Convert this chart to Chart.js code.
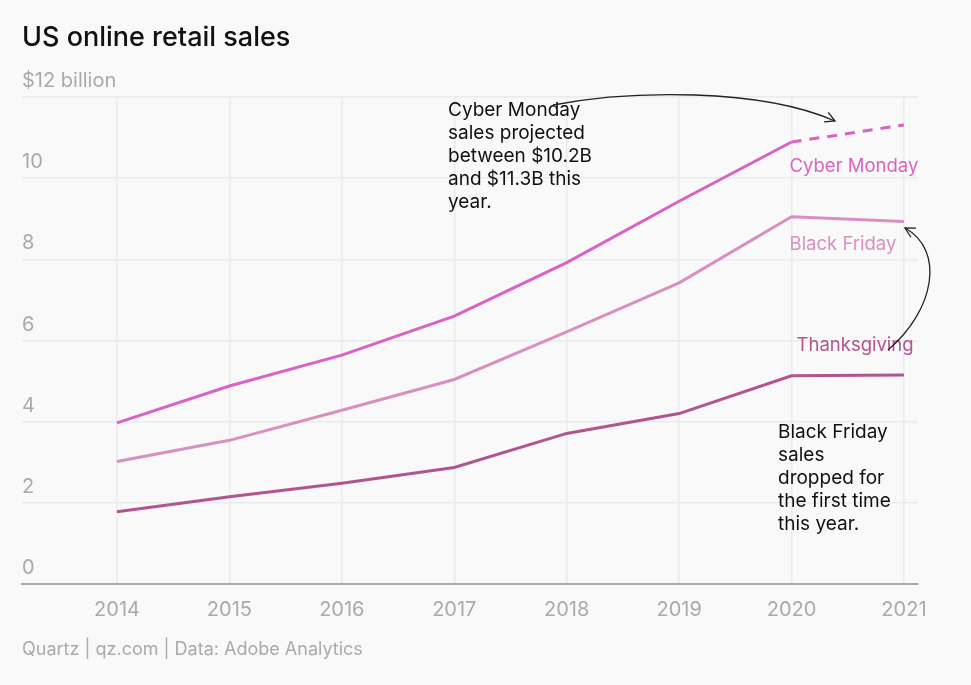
<!DOCTYPE html>
<html>
<head>
<meta charset="utf-8">
<script src="https://cdn.jsdelivr.net/npm/chart.js@4"></script>
<style>
  html, body { margin: 0; padding: 0; background: #f9f9f9; }
  #wrap { width: 971px; height: 685px; position: relative; }
</style>
</head>
<body>
<div id="wrap"><canvas id="chart"></canvas></div>
<script>
const years = [2014, 2015, 2016, 2017, 2018, 2019, 2020, 2021];
const cyberMonday = [3.97, 4.88, 5.64, 6.6, 7.92, 9.43, 10.89, 11.31];
const blackFriday = [3.02, 3.54, 4.28, 5.04, 6.21, 7.42, 9.05, 8.93];
const thanksgiving = [1.78, 2.15, 2.48, 2.87, 3.71, 4.2, 5.13, 5.15];
const yTicks = [0, 2, 4, 6, 8, 10, 12];

const FONT = 'Inter, "Noto Sans", sans-serif';
const CM_COLOR = '#d963c4';
const BF_COLOR = '#d990c0';
const TG_COLOR = '#b0558f';

function pts(values) {
  return values.map((v, i) => ({x: years[i], y: v}));
}

function drawArrow(ctx, p0, c1, c2, p1) {
  ctx.beginPath();
  ctx.moveTo(p0[0], p0[1]);
  ctx.bezierCurveTo(c1[0], c1[1], c2[0], c2[1], p1[0], p1[1]);
  ctx.stroke();
  // arrow head along the end tangent
  const a = Math.atan2(p1[1] - c2[1], p1[0] - c2[0]);
  const len = 11;
  ctx.beginPath();
  ctx.moveTo(p1[0] - len * Math.cos(a - 0.5), p1[1] - len * Math.sin(a - 0.5));
  ctx.lineTo(p1[0], p1[1]);
  ctx.lineTo(p1[0] - len * Math.cos(a + 0.5), p1[1] - len * Math.sin(a + 0.5));
  ctx.stroke();
}

const decorations = {
  id: 'decorations',
  afterDraw(chart) {
    const ctx = chart.ctx;
    const xs = chart.scales.x;
    const ys = chart.scales.y;
    const x2020 = xs.getPixelForValue(2020);
    ctx.save();
    ctx.textBaseline = 'middle';
    ctx.textAlign = 'left';

    // title and source
    ctx.fillStyle = '#111';
    ctx.font = '500 27px ' + FONT;
    ctx.fillText('US online retail sales', 22, 38);
    ctx.fillStyle = '#aaaaaa';
    ctx.font = '18px ' + FONT;
    ctx.fillText('Quartz | qz.com | Data: Adobe Analytics', 22, 650);

    // series labels
    ctx.font = '18.5px ' + FONT;
    ctx.fillStyle = CM_COLOR;
    ctx.fillText('Cyber Monday', x2020 - 2, ys.getPixelForValue(10.87) + 24);
    ctx.fillStyle = BF_COLOR;
    ctx.fillText('Black Friday', x2020 - 2, ys.getPixelForValue(9.05) + 28);
    ctx.fillStyle = TG_COLOR;
    ctx.fillText('Thanksgiving', x2020 + 5, ys.getPixelForValue(5.13) - 30);

    // notes
    ctx.fillStyle = '#111';
    ctx.font = '19px ' + FONT;
    const note1 = ['Cyber Monday', 'sales projected', 'between $10.2B', 'and $11.3B this', 'year.'];
    note1.forEach((t, i) => ctx.fillText(t, 448, 110 + i * 23));
    const note2 = ['Black Friday', 'sales', 'dropped for', 'the first time', 'this year.'];
    note2.forEach((t, i) => ctx.fillText(t, 778, 432 + i * 23));

    // arrows
    ctx.strokeStyle = '#222';
    ctx.lineWidth = 1.3;
    drawArrow(ctx, [553, 105], [630, 90], [760, 88], [835, 121]);
    drawArrow(ctx, [888, 350], [935, 310], [945, 250], [905, 228]);
    ctx.restore();
  }
};

new Chart(document.getElementById('chart'), {
  type: 'line',
  data: {
    datasets: [
      {
        label: 'Cyber Monday',
        data: pts(cyberMonday),
        borderColor: CM_COLOR,
        borderWidth: 3,
        pointRadius: 0,
        segment: {
          borderDash: ctx => ctx.p0DataIndex === years.length - 2 ? [10, 8] : undefined
        }
      },
      {
        label: 'Black Friday',
        data: pts(blackFriday),
        borderColor: BF_COLOR,
        borderWidth: 3,
        pointRadius: 0
      },
      {
        label: 'Thanksgiving',
        data: pts(thanksgiving),
        borderColor: TG_COLOR,
        borderWidth: 3,
        pointRadius: 0
      }
    ]
  },
  options: {
    responsive: true,
    maintainAspectRatio: false,
    animation: false,
    layout: {padding: {left: 22, right: 53, top: 97, bottom: 49}},
    plugins: {
      legend: {display: false},
      tooltip: {enabled: false}
    },
    scales: {
      x: {
        type: 'linear',
        min: 2013.155,
        max: 2021.125,
        afterBuildTicks: scale => { scale.ticks = years.map(v => ({value: v})); },
        grid: {color: '#ebebeb', lineWidth: 1.5, drawTicks: false},
        border: {display: true, color: '#aaaaaa', width: 2},
        ticks: {
          color: '#aaaaaa',
          font: {family: FONT, size: 20},
          padding: 14,
          callback: v => String(v)
        }
      },
      y: {
        min: 0,
        max: 12,
        afterBuildTicks: scale => { scale.ticks = yTicks.map(v => ({value: v})); },
        grid: {color: '#ebebeb', lineWidth: 1.5, drawTicks: false},
        border: {display: false},
        ticks: {
          mirror: true,
          padding: 0,
          labelOffset: -16,
          color: '#aaaaaa',
          font: {family: FONT, size: 20},
          callback: v => v === 12 ? '$12 billion' : String(v)
        }
      }
    }
  },
  plugins: [decorations]
});
</script>
</body>
</html>
